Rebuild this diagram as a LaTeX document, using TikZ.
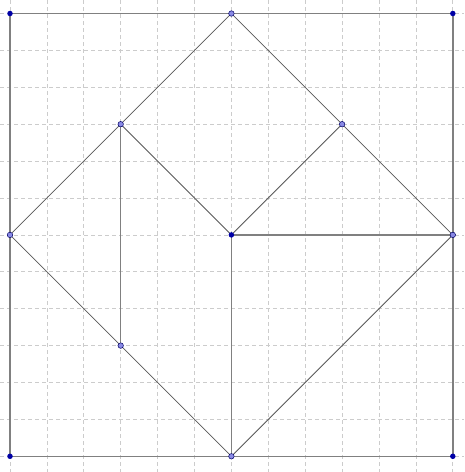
\documentclass[tikz,border=0pt]{standalone}
\begin{document}
\begin{tikzpicture}[x=1pt,y=-1pt,
  gridline/.style={draw=black!20, line width=0.7pt, dash pattern=on 4pt off 3pt},
  thickseg/.style={draw=black!50, line width=1.4pt},
  thinseg/.style={draw=black!65, line width=0.8pt},
  darkpt/.style={circle, fill=blue!65!black, inner sep=0pt, minimum size=5.5pt},
  lightpt/.style={circle, fill=blue!45!white!80!gray, draw=blue!40!black, line width=0.5pt, inner sep=0pt, minimum size=5.5pt}]
\useasboundingbox (0,0) rectangle (464,472);
\fill[white] (0,0) rectangle (464,472);
\def\u{36.9}
\foreach \k in {0,...,12} {
  \draw[gridline] ({10+\k*\u},0) -- ({10+\k*\u},472);
  \draw[gridline] (0,{13.5+\k*\u}) -- (464,{13.5+\k*\u});
}
\begin{scope}[shift={(10,13.5)}, x=36.9pt, y=-36.9pt]
\coordinate (A) at (0,0);
\coordinate (B) at (12,0);
\coordinate (C) at (12,12);
\coordinate (D) at (0,12);
\coordinate (T) at (6,0);
\coordinate (L) at (0,6);
\coordinate (R) at (12,6);
\coordinate (M) at (6,12);
\coordinate (O) at (6,6);
\coordinate (P) at (3,3);
\coordinate (Q) at (9,3);
\coordinate (S) at (3,9);
\draw[thickseg] (A) -- (B) -- (C) -- (D) -- cycle;
\draw[thinseg] (T) -- (R) -- (M) -- (L) -- cycle;
\draw[thinseg] (P) -- (O) -- (Q);
\draw[thickseg] (P) -- (S);
\draw[thickseg] (O) -- (R);
\draw[thickseg] (O) -- (M);
\foreach \n in {A,B,C,D,O} \node[darkpt] (n\n) at (\n) {};
\foreach \n in {T,L,R,M,P,Q,S} \node[lightpt] (n\n) at (\n) {};
\end{scope}
\end{tikzpicture}
\end{document}
